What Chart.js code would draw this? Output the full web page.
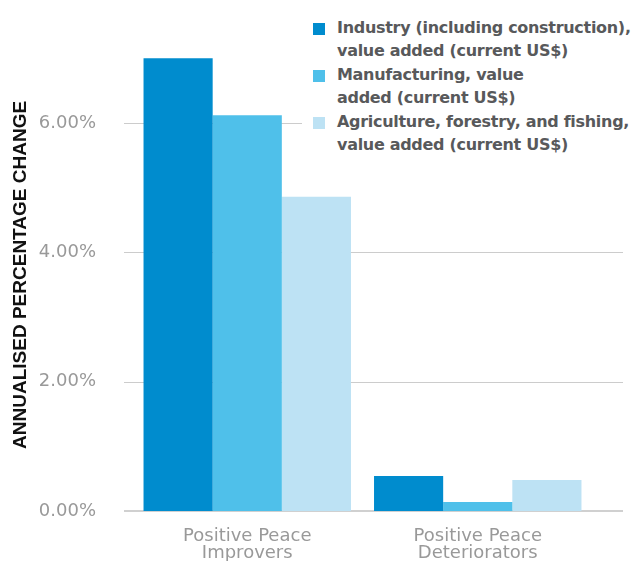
<!DOCTYPE html>
<html>
<head>
<meta charset="utf-8">
<script src="https://cdn.jsdelivr.net/npm/chart.js@4"></script>
<style>
  body { margin: 0; background: #fff; }
  #wrap { position: relative; width: 642px; height: 561px; }
  #legend {
    position: absolute; left: 302px; top: 12px; width: 340px;
    background: #fff; padding: 4px 0 6px 11px; box-sizing: border-box;
    font-family: 'DejaVu Sans', sans-serif; font-weight: 700; font-size: 16px;
    line-height: 23px; color: #58595b; letter-spacing: -0.3px;
  }
  .item { position: relative; padding-left: 24px; margin-bottom: 1px; }
  .sw { position: absolute; left: 0; top: 7px; width: 12px; height: 12px; }
</style>
</head>
<body>
<div id="wrap">
  <canvas id="chart" width="642" height="561"></canvas>
  <div id="legend"></div>
</div>
<script>
// Categorias y series
const categories = [["Positive Peace", "Improvers"], ["Positive Peace", "Deteriorators"]];
const seriesNames = [
    ["Industry (including construction),", "value added (current US$)"],
    ["Manufacturing, value", "added (current US$)"],
    ["Agriculture, forestry, and fishing,", "value added (current US$)"]
];
const industry = [7.00, 0.54];
const manufacturing = [6.12, 0.14];
const agriculture = [4.86, 0.48];
const yTicks = [0, 2, 4, 6];
const colors = ["#008cce", "#4fc0ea", "#bde2f4"];

const allSeries = [industry, manufacturing, agriculture];

// Leyenda en HTML (texto en varias lineas)
const legend = document.getElementById("legend");
seriesNames.forEach((name, i) => {
    const div = document.createElement("div");
    div.className = "item";
    div.innerHTML = '<span class="sw" style="background:' + colors[i] + '"></span>' + name.join("<br>");
    legend.appendChild(div);
});

// Lineas de la rejilla, un poco mas anchas que el area de barras
const gridPlugin = {
    id: 'wideGrid',
    beforeDatasetsDraw(chart) {
        const ctx = chart.ctx;
        const y = chart.scales.y;
        const area = chart.chartArea;
        ctx.save();
        yTicks.forEach(v => {
            const py = Math.round(y.getPixelForValue(v));
            ctx.beginPath();
            ctx.strokeStyle = v === 0 ? '#d0d0d0' : '#cccccc';
            ctx.lineWidth = v === 0 ? 2 : 1;
            const off = v === 0 ? 0 : 0.5;
            ctx.moveTo(area.left - 8, py + off);
            ctx.lineTo(area.right + 30, py + off);
            ctx.stroke();
        });
        ctx.restore();
    }
};

const data = {
    labels: categories,
    datasets: allSeries.map((values, i) => ({
        label: seriesNames[i].join(" "),
        data: values,
        backgroundColor: colors[i],
        borderWidth: 0,
        barPercentage: 1.0,
        categoryPercentage: 0.90
    }))
};

const options = {
    responsive: false,
    animation: false,
    layout: { padding: { top: 0, right: 49, left: 0, bottom: 0 } },
    plugins: {
        legend: { display: false },
        tooltip: { enabled: false }
    },
    scales: {
        x: {
            grid: { display: false },
            border: { display: false },
            ticks: {
                color: '#999999',
                padding: 9,
                font: { family: "'DejaVu Sans', sans-serif", size: 18, lineHeight: 0.95 }
            },
            afterFit: s => { s.height = 50; }
        },
        y: {
            min: 0,
            max: 7.30,
            afterBuildTicks: s => { s.ticks = yTicks.map(v => ({ value: v })); },
            afterFit: s => { s.width = 132; },
            border: { display: false },
            grid: { display: false },
            ticks: {
                color: '#999999',
                padding: 28,
                font: { family: "'DejaVu Sans', sans-serif", size: 18 },
                callback: v => v.toFixed(2) + '%'
            },
            title: {
                display: true,
                text: 'ANNUALISED PERCENTAGE CHANGE',
                color: '#111111',
                padding: { top: 9, bottom: 0 },
                font: { family: "'Liberation Sans', Arial, sans-serif", size: 19, weight: 'bold' }
            }
        }
    }
};

new Chart('chart', { type: 'bar', data, options, plugins: [gridPlugin] });
</script>
</body>
</html>
